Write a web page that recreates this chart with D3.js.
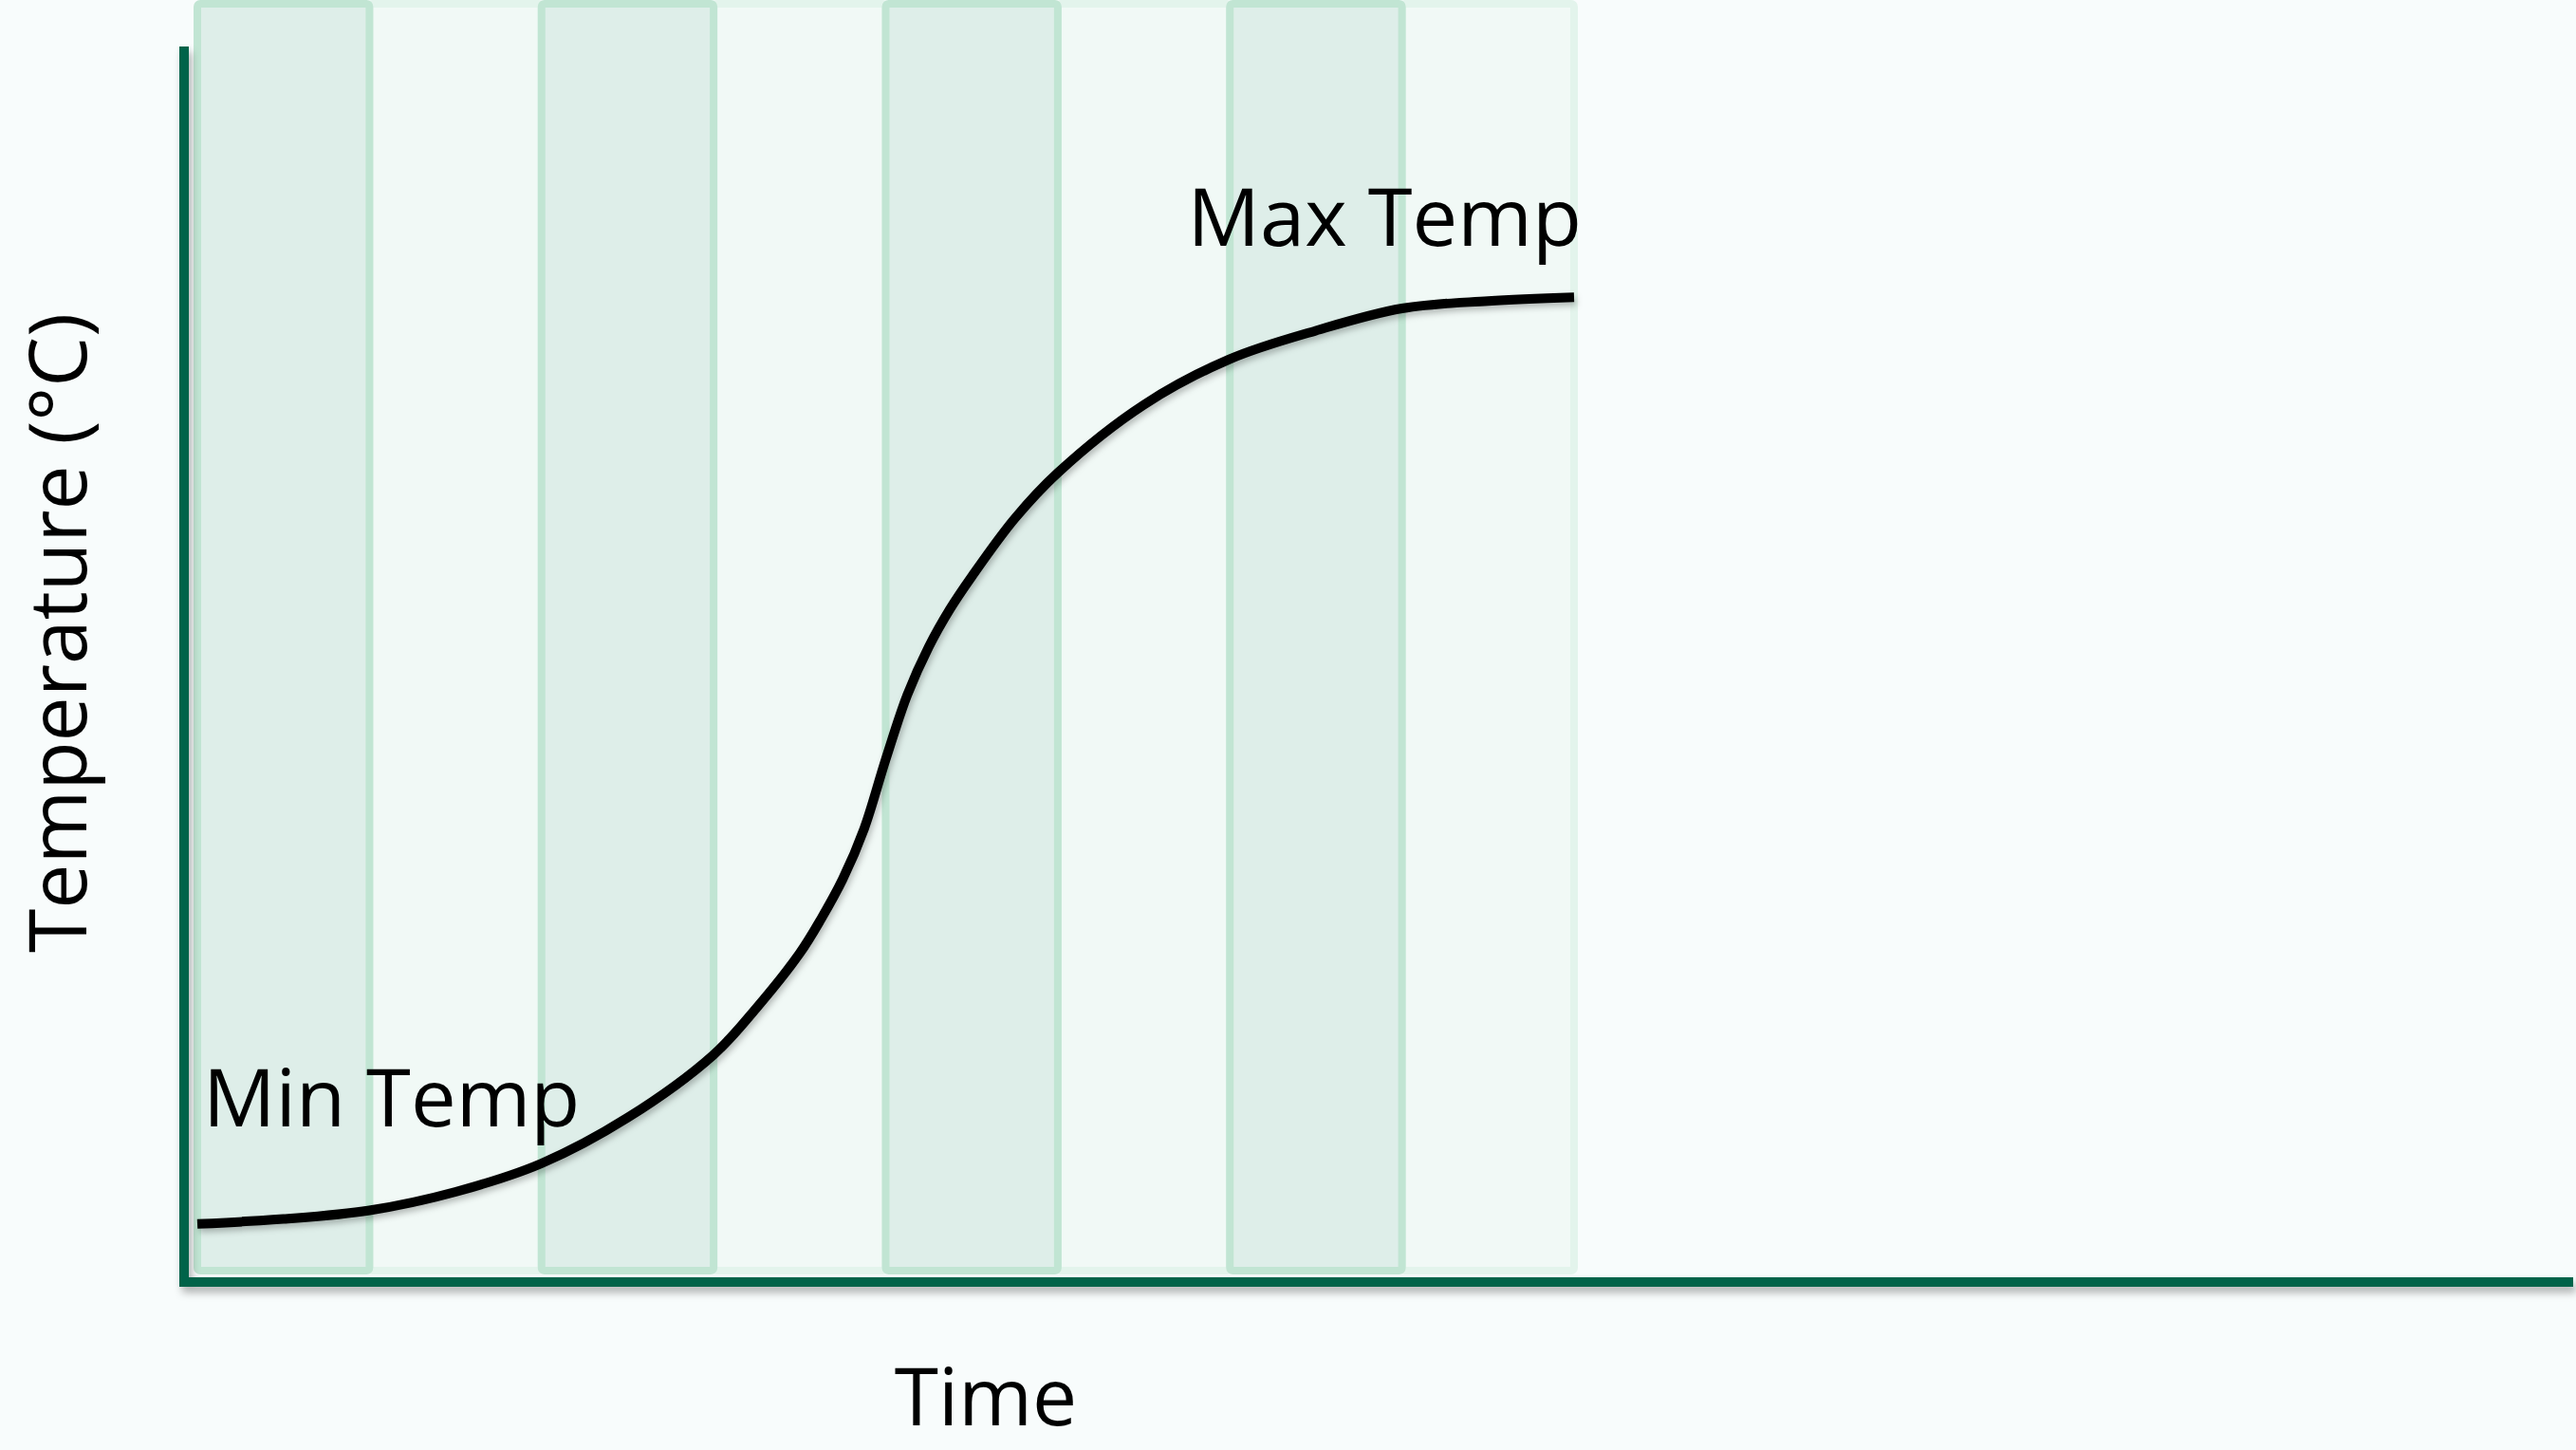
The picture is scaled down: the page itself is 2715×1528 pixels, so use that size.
<!DOCTYPE html>
<html>
<head>
<meta charset="utf-8">
<script src="https://cdn.jsdelivr.net/npm/d3@7"></script>
<style>
  body { margin: 0; background: #f8fcfc; }
  svg { display: block; }
</style>
</head>
<body>
<svg id="chart"></svg>
<script>
// bands along the time axis (one per time unit), alternating shade
const bandStart = [0, 1, 2, 3, 4, 5, 6, 7];
const bandShade = ["dark", "light", "dark", "light", "dark", "light", "dark", "light"];

// heating curve (time units, temperature as % of axis height)
const timeValues = [0, 0.5, 1, 1.5, 2, 2.5, 3, 3.25, 3.5, 3.625, 3.75, 3.875, 4, 4.125, 4.25, 4.375, 4.5, 4.75, 5, 5.5, 6, 6.5, 7, 7.5, 8];
const tempValues = [4.7, 5.1, 5.8, 7.3, 9.6, 13.3, 18.4, 22.2, 26.6, 29.4, 32.6, 36.7, 42.3, 47.5, 51.4, 54.5, 57.1, 61.8, 65.5, 71.0, 74.7, 77.0, 78.8, 79.4, 79.7];

const labels = ["Min Temp", "Max Temp"];
const xTitle = "Time";
const yTitle = "Temperature (°C)";

function createChart() {
    const width = 2715;
    const height = 1528;
    const axisColor = "#00634a";
    const font = "'Open Sans', 'Noto Sans', sans-serif";

    const svg = d3.select("#chart")
        .attr("width", width)
        .attr("height", height)
        .attr("viewBox", [0, 0, width, height]);

    // soft drop shadows like the original
    const defs = svg.append("defs");
    defs.append("filter")
        .attr("id", "axisShadow")
        .attr("x", "-5%").attr("y", "-5%").attr("width", "110%").attr("height", "400%")
        .append("feDropShadow")
        .attr("dx", 3).attr("dy", 6).attr("stdDeviation", 4)
        .attr("flood-color", "#000").attr("flood-opacity", 0.3);
    defs.append("filter")
        .attr("id", "lineShadow")
        .attr("x", "-5%").attr("y", "-5%").attr("width", "110%").attr("height", "110%")
        .append("feDropShadow")
        .attr("dx", 2).attr("dy", 4).attr("stdDeviation", 3)
        .attr("flood-color", "#000").attr("flood-opacity", 0.25);

    const x = d3.scaleLinear().domain([0, 8]).range([208, 1659]);
    const y = d3.scaleLinear().domain([0, 100]).range([1351, 49]);

    const bandTop = 4;
    const bandBottom = 1339;

    // light bands first, dark bands on top so their borders win
    const bands = bandStart.map((d, i) => ({ start: d, shade: bandShade[i] }));
    svg.append("g")
        .selectAll("rect")
        .data(bands.filter(d => d.shade === "light").concat(bands.filter(d => d.shade === "dark")))
        .join("rect")
        .attr("x", d => x(d.start))
        .attr("y", bandTop)
        .attr("width", d => x(d.start + 1) - x(d.start))
        .attr("height", bandBottom - bandTop)
        .attr("rx", 3)
        .attr("fill", d => d.shade === "dark" ? "#deeee9" : "#f1f9f6")
        .attr("stroke", d => d.shade === "dark" ? "#c1e5d3" : "#e3f4ec")
        .attr("stroke-width", 8);

    // axes: plain thick lines, no ticks
    const axes = svg.append("g")
        .attr("filter", "url(#axisShadow)")
        .attr("stroke", axisColor)
        .attr("stroke-width", 10);
    axes.append("line")
        .attr("x1", 194).attr("x2", 194)
        .attr("y1", y(100)).attr("y2", y(0) + 5);
    axes.append("line")
        .attr("x1", 189).attr("x2", 2712)
        .attr("y1", y(0)).attr("y2", y(0));

    // the curve
    const line = d3.line()
        .x((d, i) => x(timeValues[i]))
        .y(d => y(d))
        .curve(d3.curveCatmullRom.alpha(0.5));

    svg.append("path")
        .datum(tempValues)
        .attr("fill", "none")
        .attr("stroke", "#000")
        .attr("stroke-width", 10)
        .attr("filter", "url(#lineShadow)")
        .attr("d", line);

    // labels
    svg.append("text")
        .attr("x", x(0) + 6)
        .attr("y", y(12.6))
        .attr("font-family", font)
        .attr("font-size", 85)
        .attr("fill", "#000")
        .text(labels[0]);

    svg.append("text")
        .attr("x", x(8) + 8)
        .attr("y", y(83.9))
        .attr("text-anchor", "end")
        .attr("font-family", font)
        .attr("font-size", 85)
        .attr("fill", "#000")
        .text(labels[1]);

    svg.append("text")
        .attr("x", 1039)
        .attr("y", 1502)
        .attr("text-anchor", "middle")
        .attr("font-family", font)
        .attr("font-size", 84)
        .attr("fill", "#000")
        .text(xTitle);

    svg.append("text")
        .attr("transform", "translate(91,667) rotate(-90)")
        .attr("text-anchor", "middle")
        .attr("font-family", font)
        .attr("font-size", 84)
        .attr("fill", "#000")
        .text(yTitle);
}

createChart();
</script>
</body>
</html>
